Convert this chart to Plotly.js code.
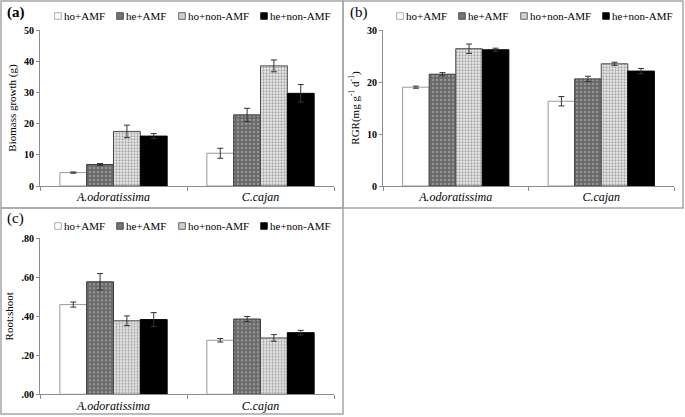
<!DOCTYPE html>
<html>
<head>
<meta charset="utf-8">
<script src="https://cdn.plot.ly/plotly-3.0.1.min.js"></script>
<style>html,body{margin:0;padding:0;background:#fff}#chart{width:685px;height:417px}</style>
</head>
<body>
<div id="chart"></div>
<script>
// ---- data ----
const species = ["A.odoratissima", "C.cajan"];
const treatments = ["ho+AMF", "he+AMF", "ho+non-AMF", "he+non-AMF"];

// (a) Biomass growth (g)
const biomass = [[4.3, 10.5], [6.9, 22.8], [17.5, 38.5], [16.0, 29.7]];
const biomassErr = [[0.2, 1.6], [0.3, 2.1], [2.0, 1.9], [0.8, 2.8]];

// (b) RGR (mg g-1 d-1)
const rgr = [[19.0, 16.3], [21.5, 20.6], [26.4, 23.5], [26.2, 22.1]];
const rgrErr = [[0.2, 0.9], [0.3, 0.5], [0.9, 0.3], [0.3, 0.5]];

// (c) Root:shoot
const rootShoot = [[0.46, 0.277], [0.577, 0.386], [0.377, 0.289], [0.383, 0.316]];
const rootShootErr = [[0.013, 0.009], [0.042, 0.013], [0.025, 0.017], [0.036, 0.012]];

const rsTickVals = [0, 0.2, 0.4, 0.6, 0.8];
const rsTickText = [".00", ".20", ".40", ".60", ".80"];
const panelLabels = ["(a)", "(b)", "(c)"];
const yTitles = ["Biomass growth (g)", "RGR(mg g<sup>-1</sup> d<sup>-1</sup>)", "Root:shoot"];

// ---- styles ----
const W = 685, H = 417;
const px = x => x / W;
const py = y => 1 - y / H;
const FONT = "Liberation Serif";
const legendOffsets = [0, 62, 124, 206];

const markerStyles = [
  {color: "#ffffff", line: {color: "#9a9a9a", width: 1}},
  {color: "#6e6e6e", line: {color: "#3a3a3a", width: 1},
   pattern: {shape: ".", fgcolor: "#959595", bgcolor: "#6a6a6a", size: 4, solidity: 0.3}},
  {color: "#d0d0d0", line: {color: "#4a4a4a", width: 1},
   pattern: {shape: ".", fgcolor: "#a6a6a6", bgcolor: "#eeeeee", size: 3, solidity: 0.45}},
  {color: "#000000", line: {color: "#000000", width: 1}}
];

const panels = [
  {vals: biomass, errs: biomassErr, xa: "x", ya: "y", legend: "legend"},
  {vals: rgr, errs: rgrErr, xa: "x2", ya: "y2", legend: "legend2"},
  {vals: rootShoot, errs: rootShootErr, xa: "x3", ya: "y3", legend: "legend3"}
];

const traces = [];
panels.forEach(p => {
  treatments.forEach((t, i) => {
    traces.push({
      type: "bar",
      name: t,
      x: species,
      y: p.vals[i],
      xaxis: p.xa,
      yaxis: p.ya,
      legend: p.legend,
      marker: markerStyles[i],
      error_y: {type: "data", array: p.errs[i], visible: true, color: "#333333", thickness: 1, width: 3}
    });
  });
});

function xAxis(domain, anchor) {
  return {
    domain: domain, anchor: anchor, type: "category", range: [-0.5, 1.5],
    showline: true, linecolor: "#8c8c8c", linewidth: 1,
    ticks: "outside", tickson: "boundaries", ticklen: 4, tickcolor: "#8c8c8c",
    tickfont: {family: FONT, size: 12, color: "#000", style: "italic"},
    showgrid: false, zeroline: false, fixedrange: true
  };
}
function yAxis(domain, anchor, range, dtick, title) {
  return {
    domain: domain, anchor: anchor, range: range, dtick: dtick,
    showline: true, linecolor: "#8c8c8c", linewidth: 1,
    ticks: "outside", ticklen: 3, tickcolor: "#8c8c8c",
    tickfont: {family: FONT, size: 10, color: "#000", weight: "bold"},
    showgrid: false, zeroline: false,
    title: {text: title, font: {family: FONT, size: 11, color: "#000"}, standoff: 5}
  };
}

const ya3 = yAxis([py(394.3), py(238.3)], "x3", [0, 0.8], 0.2, yTitles[2]);
ya3.tickmode = "array";
ya3.tickvals = rsTickVals;
ya3.ticktext = rsTickText;

function legendAt(xpix, ypix) {
  return {
    orientation: "h", x: px(xpix), y: py(ypix), xanchor: "left", yanchor: "middle",
    font: {family: FONT, size: 11, color: "#000"},
    bgcolor: "rgba(0,0,0,0)", borderwidth: 0,
    entrywidth: 23, entrywidthmode: "pixels", traceorder: "normal", itemclick: false
  };
}

const layout = {
  width: W, height: H,
  margin: {l: 0, r: 0, t: 0, b: 0},
  paper_bgcolor: "#fff", plot_bgcolor: "#fff",
  font: {family: FONT, color: "#000"},
  barmode: "group", bargap: 0.27, bargroupgap: 0,
  xaxis: xAxis([px(40), px(334)], "y"),
  yaxis: yAxis([py(186), py(30)], "x", [0, 50], 10, yTitles[0]),
  xaxis2: xAxis([px(383), px(674)], "y2"),
  yaxis2: yAxis([py(186), py(30)], "x2", [0, 30], 10, yTitles[1]),
  xaxis3: xAxis([px(40), px(334)], "y3"),
  yaxis3: ya3,
  legend: legendAt(24, 16),
  legend2: legendAt(366, 16),
  legend3: legendAt(24, 226),
  showlegend: true,
  shapes: [
    {type: "rect", xref: "paper", yref: "paper", x0: px(1), x1: px(343), y0: py(208), y1: py(1), line: {color: "#a6a6a6", width: 1.5}},
    {type: "rect", xref: "paper", yref: "paper", x0: px(343), x1: px(683), y0: py(208), y1: py(1), line: {color: "#a6a6a6", width: 1.5}},
    {type: "rect", xref: "paper", yref: "paper", x0: px(1), x1: px(343), y0: py(414), y1: py(208), line: {color: "#a6a6a6", width: 1.5}}
  ],
  annotations: [
    {text: "<b>" + panelLabels[0] + "</b>", xref: "paper", yref: "paper", x: px(5), y: py(12), xanchor: "left", yanchor: "middle", showarrow: false, font: {family: FONT, size: 15, color: "#000"}},
    {text: panelLabels[1], xref: "paper", yref: "paper", x: px(348), y: py(12), xanchor: "left", yanchor: "middle", showarrow: false, font: {family: FONT, size: 15, color: "#000"}},
    {text: panelLabels[2], xref: "paper", yref: "paper", x: px(5), y: py(219), xanchor: "left", yanchor: "middle", showarrow: false, font: {family: FONT, size: 15, color: "#000"}}
  ]
};

Plotly.newPlot("chart", traces, layout, {staticPlot: true, displayModeBar: false}).then(gd => {
  // compact legend symbols (small squares right before the text), Excel-like entry spacing, no clipping
  gd.querySelectorAll(".scrollbox").forEach(box => {
    box.removeAttribute("clip-path");
    const items = box.querySelectorAll("g.traces");
    if (!items.length) return;
    const m = /translate\(\s*([-\d.e]+)[ ,]+([-\d.e]+)\s*\)/.exec(items[0].getAttribute("transform") || "");
    const x0 = m ? parseFloat(m[1]) : 0;
    const y0 = m ? parseFloat(m[2]) : 0;
    items.forEach((it, k) => {
      it.setAttribute("transform", "translate(" + (x0 + legendOffsets[k]) + "," + y0 + ")");
    });
  });
  gd.querySelectorAll(".legendpoints path").forEach(p => {
    p.setAttribute("transform", "translate(34,0) scale(0.55)");
    p.style.strokeWidth = "1.5px";
  });
});
</script>
</body>
</html>
